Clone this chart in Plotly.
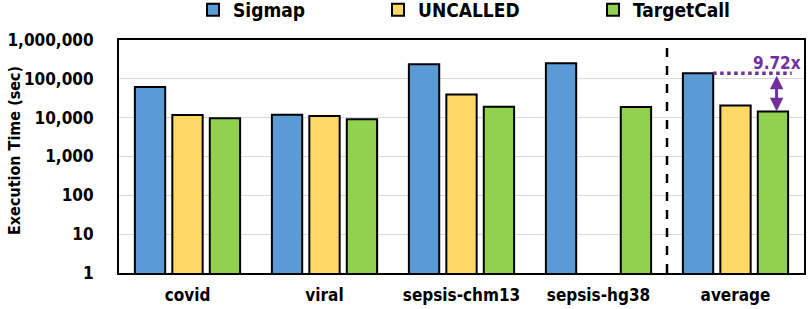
import math
import plotly.graph_objects as go

categories = ["covid", "viral", "sepsis-chm13", "sepsis-hg38", "average"]
sigmap = [62000, 11900, 237000, 251000, 140000]
uncalled = [11700, 11000, 39500, None, 20700]
targetcall = [9600, 9050, 19100, 18700, 14400]
speedup_label = "9.72x"
tick_vals = [1, 10, 100, 1000, 10000, 100000, 1000000]
tick_text = ["1", "10", "100", "1,000", "10,000", "100,000", "1,000,000"]

FONT = "DejaVu Sans Condensed, DejaVu Sans"
PURPLE = "#7030A0"
W, H = 809, 309
L, R, T, B = 119, 804, 40, 273

def paper_x(px):
    return (px - L) / (R - L)

def paper_y(py):
    return (B - py) / (B - T)

fig = go.Figure()
series = [("Sigmap", sigmap, "#5B9BD5", "legend2", 193),
          ("UNCALLED", uncalled, "#FFD966", "legend3", 378),
          ("TargetCall", targetcall, "#92D050", "legend4", 593)]
legends = {}
for name, vals, color, lg, lx in series:
    fig.add_trace(go.Bar(
        x=list(range(len(categories))), y=vals, name="<b>" + name + "</b>",
        marker=dict(color=color, line=dict(color="black", width=2)),
        legend=lg, showlegend=True,
    ))
    legends[lg] = dict(orientation="h", xref="container", yref="container",
                       x=lx / W, y=1 - 10 / H, xanchor="left", yanchor="middle",
                       font=dict(family=FONT, size=19, color="black"),
                       bgcolor="rgba(0,0,0,0)", itemwidth=30)

fig.update_layout(
    width=W, height=H, showlegend=True,
    margin=dict(l=L, r=W - R, t=T, b=H - B, autoexpand=False),
    paper_bgcolor="white", plot_bgcolor="white",
    barmode="group", bargap=0.18, bargroupgap=0.19,
    font=dict(family=FONT, color="black"),
    xaxis=dict(
        tickmode="array", tickvals=list(range(len(categories))),
        ticktext=["<b>" + c + "</b>" for c in categories],
        range=[-0.5, len(categories) - 0.5], automargin=False,
        showline=True, linecolor="black", linewidth=2, mirror=True,
        showgrid=False, ticks="", ticklabelstandoff=6,
        tickfont=dict(family=FONT, size=17, color="black"),
    ),
    yaxis=dict(
        type="log", range=[0, 6], automargin=False,
        tickmode="array", tickvals=tick_vals,
        ticktext=["<b>" + t + "</b>" for t in tick_text],
        showline=True, linecolor="black", linewidth=2, mirror=True,
        showgrid=True, gridcolor="#D9D9D9", gridwidth=1,
        ticks="", ticklabelstandoff=20,
        tickfont=dict(family=FONT, size=17, color="black"),
    ),
    **legends,
)

# y-axis title as annotation
fig.add_annotation(
    text="<b>Execution Time (sec)</b>", textangle=-90,
    xref="paper", yref="paper", x=paper_x(14), y=paper_y(151),
    xanchor="center", yanchor="middle", showarrow=False,
    font=dict(family=FONT, size=16, color="black"),
)

# dashed separator before "average"
fig.add_shape(type="line", xref="x", yref="paper", x0=3.5, x1=3.5, y0=0, y1=1,
              line=dict(color="black", width=2.5, dash="dash"))

avg_idx = len(categories) - 1
sig_avg = sigmap[avg_idx]
tc_avg = targetcall[avg_idx]

# dotted line from Sigmap avg top
fig.add_shape(type="line", xref="x", yref="y",
              x0=avg_idx - 0.163, x1=avg_idx + 0.41, y0=sig_avg, y1=sig_avg,
              line=dict(color=PURPLE, width=3.5, dash="dot"))

# double-headed arrow
fig.add_annotation(
    x=avg_idx + 0.30, y=math.log10(tc_avg) + 0.005,
    ax=avg_idx + 0.30, ay=math.log10(sig_avg) - 0.03,
    xref="x", yref="y", axref="x", ayref="y",
    showarrow=True, arrowhead=2, arrowside="end+start",
    arrowsize=0.9, arrowwidth=3, arrowcolor=PURPLE, text="",
)

fig.add_annotation(
    text="<b>" + speedup_label + "</b>",
    x=avg_idx + 0.30, y=math.log10(sig_avg), xref="x", yref="y",
    xanchor="center", yanchor="bottom", yshift=-2, showarrow=False,
    font=dict(family=FONT, size=17, color=PURPLE),
)

fig.write_html("out.html", config={"displayModeBar": False},
               post_script="document.body.style.margin='0';")
